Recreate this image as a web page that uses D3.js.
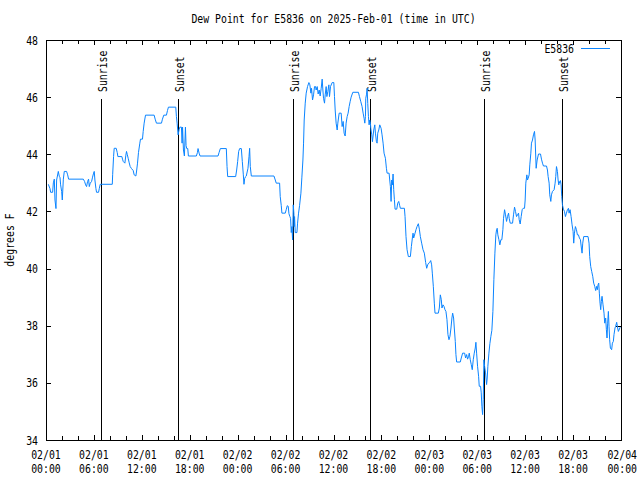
<!DOCTYPE html>
<html><head><meta charset="utf-8">
<script src="https://cdn.jsdelivr.net/npm/d3@7"></script>
<style>body{margin:0;background:#fff}svg{display:block}</style>
</head><body><svg id="c" width="640" height="480"></svg>
<script>
// ---- data ----
const chartTitle = "Dew Point for E5836 on 2025-Feb-01 (time in UTC)";
const yLabel = "degrees F";
const seriesName = "E5836";
const hours = [0.29,0.5,0.58,0.83,0.92,1.04,1.125,1.25,1.33,1.54,1.67,1.75,1.83,1.96,2.04,2.17,2.29,2.58,2.71,2.83,4.67,4.83,4.96,5.08,5.21,5.33,5.42,5.54,5.71,5.83,5.96,6.04,6.125,6.25,6.33,6.58,6.67,6.79,8.3,8.35,8.46,8.54,8.79,8.92,9.0,9.5,9.58,9.67,9.875,10.0,10.08,10.17,10.29,10.42,10.54,10.71,10.92,11.04,11.25,11.33,11.46,11.58,11.75,11.83,12.08,12.17,12.29,12.46,13.54,13.67,13.83,14.46,14.58,14.75,15.08,15.21,15.33,16.25,16.33,16.42,16.54,16.67,16.75,16.96,17.04,17.1,17.21,17.33,17.46,17.54,17.625,17.75,17.83,18.83,18.96,19.04,19.17,19.29,21.54,21.67,21.83,22.58,22.67,22.75,23.75,23.875,24.0,24.125,24.25,24.46,24.58,24.71,24.79,24.875,25.0,25.08,25.29,25.42,25.5,25.58,25.71,28.54,28.71,28.83,29.25,29.33,29.46,29.54,29.96,30.08,30.21,30.33,30.42,30.54,30.625,30.71,30.79,30.875,30.96,31.04,31.08,31.125,31.21,31.42,31.5,31.625,31.75,31.92,32.04,32.17,32.25,32.33,32.46,32.58,32.75,32.92,33.04,33.17,33.25,33.375,33.5,33.625,33.75,33.83,33.96,34.08,34.21,34.33,34.46,34.58,34.67,34.75,34.875,34.96,35.08,35.17,35.29,35.42,35.5,35.625,35.83,36.04,36.125,36.21,36.33,36.46,36.54,36.71,36.96,37.08,37.21,37.33,37.46,37.58,37.71,37.83,37.96,38.08,38.21,38.42,39.12,39.25,39.42,39.58,39.71,39.83,39.92,40.0,40.04,40.125,40.21,40.29,40.375,40.46,40.54,40.625,40.67,40.79,40.875,41.04,41.17,41.25,41.375,41.46,41.54,41.67,41.79,41.96,42.08,42.21,42.33,42.5,42.625,42.71,42.96,43.04,43.125,43.21,43.29,43.375,43.46,43.54,43.625,43.71,43.92,44.04,44.17,44.29,44.375,44.875,44.96,45.08,45.21,45.375,45.625,45.75,45.875,45.96,46.04,46.21,46.33,46.46,46.625,46.75,46.875,47.04,47.21,47.375,47.54,47.67,47.79,47.92,48.04,48.17,48.29,48.375,48.5,48.625,48.71,49.125,49.25,49.375,49.5,49.58,49.71,49.83,49.96,50.08,50.21,50.33,50.46,50.58,50.71,50.83,50.92,51.04,51.125,51.25,51.33,51.42,51.875,52.0,52.17,52.42,52.54,52.67,52.79,52.92,53.0,53.125,53.25,53.375,53.5,53.625,53.75,53.83,53.92,54.04,54.17,54.25,54.42,54.5,54.58,54.67,54.75,54.83,54.92,55.04,55.17,55.25,55.33,55.46,55.58,55.71,55.83,55.96,56.08,56.21,56.33,56.42,56.5,56.58,56.71,56.83,56.96,57.08,57.21,57.29,57.42,57.54,57.67,57.79,57.92,58.0,58.125,58.42,58.54,58.67,58.79,58.92,59.04,59.17,59.25,59.375,59.5,59.625,59.75,59.92,60.0,60.08,60.21,60.29,60.375,60.5,60.58,60.71,60.79,60.92,61.04,61.17,61.25,61.375,61.5,61.67,61.92,62.04,62.17,62.29,62.67,62.79,62.875,63.0,63.08,63.21,63.29,63.42,63.625,63.75,63.83,63.92,64.04,64.125,64.21,64.25,64.33,64.42,64.5,64.58,64.67,64.79,64.92,65.04,65.17,65.29,65.42,65.5,65.625,65.75,65.875,66.0,66.08,66.17,66.29,66.42,66.54,66.67,66.79,66.92,67.04,67.125,67.21,67.33,67.875,68.0,68.08,68.21,68.33,68.46,68.58,68.71,68.83,68.96,69.04,69.125,69.21,69.29,69.375,69.46,69.54,69.625,69.75,69.875,69.96,70.08,70.17,70.25,70.33,70.42,70.5,70.58,70.67,70.83,70.92,71.04,71.125,71.25,71.33,71.46,71.58,71.67,71.9];
const dewpoint = [42.95,42.8,42.67,42.67,43.0,43.13,42.4,42.1,43.1,43.4,43.22,43.2,42.93,42.7,42.4,43.13,43.4,43.4,43.28,43.13,43.13,43.05,42.93,42.87,43.05,43.13,42.87,42.99,43.05,43.2,43.34,43.4,43.1,42.8,42.67,42.67,42.8,42.95,42.95,43.3,43.92,44.21,44.21,44.06,43.92,43.92,43.83,43.75,43.69,43.97,44.1,44.0,43.86,43.7,43.57,43.5,43.43,43.28,43.24,43.38,43.69,44.06,44.39,44.53,44.53,44.8,45.09,45.37,45.37,45.23,45.09,45.09,45.23,45.37,45.37,45.53,45.65,45.65,45.32,45.09,44.68,44.86,44.95,44.95,44.39,44.95,44.15,43.94,44.95,44.3,44.2,44.2,43.94,43.94,44.06,44.2,44.04,43.94,43.94,44.06,44.2,44.2,43.57,43.22,43.22,43.45,43.75,44.1,44.2,44.2,43.75,43.28,42.95,43.15,43.22,43.24,43.51,43.92,44.21,43.57,43.24,43.24,43.1,42.99,42.99,42.52,42.2,41.94,41.94,42.06,42.2,42.18,41.92,41.82,41.76,41.26,41.47,41.0,42.23,41.94,41.47,41.82,41.26,41.26,41.59,41.94,42.2,42.64,43.2,43.8,44.39,45.2,45.79,46.14,46.37,46.51,46.43,46.14,46.31,45.9,46.08,46.37,46.37,46.25,46.37,46.11,46.25,46.04,46.31,46.63,46.25,45.96,45.79,46.08,46.37,46.02,46.2,46.43,46.02,46.37,46.51,46.51,46.02,45.55,45.09,44.85,45.09,45.44,45.44,44.97,45.15,44.74,44.64,45.09,45.32,45.44,45.67,45.84,46.0,46.17,46.17,46.02,45.84,45.67,45.44,45.26,45.09,45.32,45.96,46.08,46.31,45.78,45.32,45.03,45.2,45.09,44.91,44.68,44.44,44.85,45.03,44.74,44.44,44.39,44.74,44.85,45.03,44.91,44.68,44.39,44.04,43.86,43.51,43.34,43.34,43.1,42.87,42.35,43.1,42.93,43.31,42.76,42.41,42.08,42.08,42.29,42.35,42.2,42.11,42.11,41.82,41.12,40.66,40.42,40.42,40.77,41.07,41.24,41.07,41.24,41.36,41.47,41.57,41.38,41.12,40.89,40.66,40.54,40.21,40.01,40.13,40.19,40.21,40.28,40.13,39.84,39.38,38.79,38.44,38.44,38.62,39.08,38.91,38.62,38.73,38.68,38.56,38.5,38.21,37.69,37.51,37.63,37.92,38.27,38.44,38.27,37.92,37.45,36.99,36.73,36.73,36.87,37.04,37.04,36.87,36.99,36.83,36.93,37.04,36.81,36.64,36.46,36.81,37.04,37.22,37.42,37.04,36.58,36.23,35.88,35.88,35.65,35.18,34.89,35.41,36.81,36.58,36.35,35.94,36.17,36.58,37.04,37.37,37.63,37.84,38.5,39.61,40.54,41.18,41.36,41.41,41.18,41.01,40.83,41.01,41.01,41.36,41.76,42.06,41.88,41.65,41.82,41.94,41.76,41.59,41.59,41.88,42.15,42.0,41.82,41.88,41.94,41.71,41.56,41.82,42.06,42.11,42.11,42.4,42.99,43.28,43.1,43.16,43.28,43.63,44.04,44.39,44.5,44.68,44.8,44.5,43.51,43.8,44.01,44.01,43.83,43.69,43.59,43.59,43.45,43.22,42.99,42.58,42.35,42.58,42.7,42.76,42.99,43.22,43.57,43.4,43.1,42.93,43.05,42.99,43.08,42.93,42.52,42.23,42.08,42.0,41.82,41.94,42.06,42.11,41.94,42.06,41.82,41.53,41.3,40.89,41.24,41.47,41.36,41.18,41.18,41.07,41.01,40.72,40.54,40.89,41.12,41.12,40.89,40.42,40.07,39.9,39.73,39.49,39.38,39.23,39.38,39.26,39.43,39.49,39.14,38.79,38.56,38.85,39.03,38.73,38.44,38.09,38.27,37.86,37.57,38.09,38.5,37.98,37.51,37.22,37.16,37.39,37.45,37.69,37.92,37.98,38.12,37.92,37.8,37.95];
const sunriseHours = [6.88, 30.9, 54.82];
const sunsetHours = [16.53, 40.55, 64.58];
const yTickValues = [34,36,38,40,42,44,46,48];
const xMajorHours = [0,6,12,18,24,30,36,42,48,54,60,66,72];
const xMinorHours = [2,4,8,10,14,16,20,22,26,28,32,34,38,40,44,46,50,52,56,58,62,64,68,70];

// ---- drawing ----
const L=46, R=621, T=40, B=440;
const CW = 5.92;
const FONT = '"DejaVu Sans Mono", monospace';
const t0 = Date.UTC(2025,1,1,0,0);
const toDate = h => new Date(t0 + h*3600e3);
const x = d3.scaleUtc().domain([toDate(0), toDate(72)]).range([L, R]);
const y = d3.scaleLinear().domain([34, 48]).range([B, T]);
const svg = d3.select("#c");
svg.append("rect").attr("width",640).attr("height",480).attr("fill","#fff");

function fit(sel){
  sel.attr("font-family", FONT).attr("font-size", 12).attr("fill","#000")
     .each(function(){ const s=d3.select(this).text(); if(s.length) d3.select(this).attr("textLength", s.length*CW).attr("lengthAdjust","spacingAndGlyphs"); });
  return sel;
}

// title
fit(svg.append("text").attr("x",(L+R)/2).attr("y",23).attr("text-anchor","middle").text(chartTitle));
// y label
fit(svg.append("text").attr("transform",`translate(14,${(T+B)/2}) rotate(-90)`).attr("text-anchor","middle").text(yLabel));

// axes
const fmtD = d3.utcFormat("%m/%d"), fmtT = d3.utcFormat("%H:%M");
const majorDates = xMajorHours.map(toDate), minorDates = xMinorHours.map(toDate);
function styleAxis(g){ g.select(".domain").remove(); g.selectAll("line").attr("stroke","#000").attr("shape-rendering","crispEdges"); g.selectAll("text").remove(); }
svg.append("g").attr("transform",`translate(0,${B})`).call(d3.axisBottom(x).tickValues(majorDates).tickSize(-5)).call(styleAxis);
svg.append("g").attr("transform",`translate(0,${B})`).call(d3.axisBottom(x).tickValues(minorDates).tickSize(-4)).call(styleAxis);
svg.append("g").attr("transform",`translate(0,${T})`).call(d3.axisTop(x).tickValues(majorDates).tickSize(-5)).call(styleAxis);
svg.append("g").attr("transform",`translate(0,${T})`).call(d3.axisTop(x).tickValues(minorDates).tickSize(-4)).call(styleAxis);
svg.append("g").attr("transform",`translate(${L},0)`).call(d3.axisLeft(y).tickValues(yTickValues).tickSize(-5)).call(styleAxis);
svg.append("g").attr("transform",`translate(${R},0)`).call(d3.axisRight(y).tickValues(yTickValues).tickSize(-5)).call(styleAxis);

// x labels
const xl = svg.append("g");
majorDates.forEach((d,i)=>{
  const last = i === majorDates.length-1;
  const lx = last ? 637 : x(d);
  const anchor = last ? "end" : "middle";
  fit(xl.append("text").attr("x",lx).attr("y",459).attr("text-anchor",anchor).text(fmtD(d)));
  fit(xl.append("text").attr("x",lx).attr("y",473).attr("text-anchor",anchor).text(fmtT(d)));
});
// y labels
const yl = svg.append("g");
yTickValues.forEach(v=>{
  fit(yl.append("text").attr("x",L-8).attr("y",y(v)+4.5).attr("text-anchor","end").text(String(v)));
});

// sunrise / sunset markers
const events = sunriseHours.map(h=>({h,l:"Sunrise"})).concat(sunsetHours.map(h=>({h,l:"Sunset"})));
const ev = svg.append("g");
events.forEach(e=>{
  const px = Math.round(x(toDate(e.h)))+0.5;
  ev.append("line").attr("x1",px).attr("x2",px).attr("y1",99).attr("y2",B).attr("stroke","#000").attr("stroke-width",1);
  fit(ev.append("text").attr("transform",`translate(${px+5},92) rotate(-90)`).attr("text-anchor","start").text(e.l));
});

// series
const data = hours.map((h,i)=>({d:toDate(h), v:dewpoint[i]}));
svg.append("path").datum(data)
  .attr("fill","none").attr("stroke","#0a84ff").attr("stroke-width",1)
  .attr("d", d3.line().x(p=>x(p.d)).y(p=>y(p.v)));

// frame
svg.append("rect").attr("x",L+0.5).attr("y",T+0.5).attr("width",R-L).attr("height",B-T)
  .attr("fill","none").attr("stroke","#000").attr("stroke-width",1).attr("shape-rendering","crispEdges");

// legend
fit(svg.append("text").attr("x",574).attr("y",53).attr("text-anchor","end").text(seriesName));
svg.append("line").attr("x1",581).attr("x2",610).attr("y1",48.5).attr("y2",48.5).attr("stroke","#0a84ff").attr("stroke-width",1);
</script></body></html>
